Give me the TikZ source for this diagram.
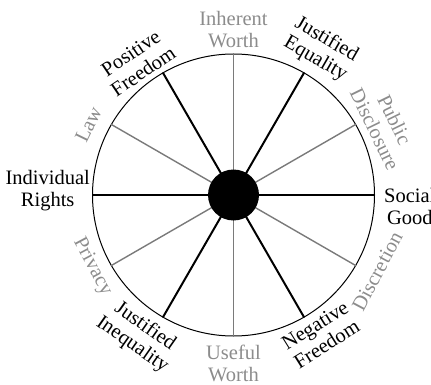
\documentclass[tikz,border=0pt]{standalone}
\usepackage{fontspec}
\setmainfont{Liberation Serif}
\usetikzlibrary{calc}
\definecolor{labgray}{HTML}{8C8C8C}
\definecolor{spokegray}{HTML}{7A7A7A}
\begin{document}
\begin{tikzpicture}[x=1pt,y=-1pt,
  lab/.style={font=\fontsize{20.5}{22}\selectfont, align=center, inner sep=0pt},
  dlab/.style={lab, text=black},
  glab/.style={lab, text=labgray},
  dspoke/.style={line width=2pt, black},
  hspoke/.style={line width=2.6pt, black},
  gspoke/.style={line width=1.4pt, spokegray},
]
\useasboundingbox (0,0) rectangle (431,385);
\clip (0,0) rectangle (431,385);
\coordinate (c) at (233.5,195);
\node[circle, draw, minimum size=282pt, inner sep=0pt, line width=1pt] (ring) at (c) {};
% spokes
\draw[hspoke] (c) -- (ring.0);
\draw[gspoke] (c) -- (ring.30);
\draw[dspoke] (c) -- (ring.60);
\draw[gspoke] (c) -- (ring.90);
\draw[dspoke] (c) -- (ring.120);
\draw[gspoke] (c) -- (ring.150);
\draw[hspoke] (c) -- (ring.180);
\draw[gspoke] (c) -- (ring.210);
\draw[dspoke] (c) -- (ring.240);
\draw[gspoke] (c) -- (ring.270);
\draw[dspoke] (c) -- (ring.300);
\draw[gspoke] (c) -- (ring.330);
\node[circle, fill=black, minimum size=51pt, inner sep=0pt] (hub) at (c) {};
% labels
\node[glab] (iw) at ($(c)!1.17!(ring.90)$) {Inherent\\Worth};
\node[dlab, rotate=-30] (je) at ($(c)!1.2!(ring.59)$) {Justified\\Equality};
\node[glab, rotate=-64] (pd) at ($(c)!1.18!(ring.25)$) {Public\\Disclosure};
\node[dlab, anchor=west] (sg) at ($(ring.east)+(9,11)$) {Social\\Good};
\node[glab, rotate=62] (di) at ($(c)!1.15!(ring.332)$) {Discretion};
\node[dlab, rotate=32] (nf) at ($(c)!1.165!(ring.302)$) {Negative\\Freedom};
\node[glab] (uw) at ($(c)!1.19!(ring.270)$) {Useful\\Worth};
\node[dlab, rotate=-35] (ji) at ($(c)!1.2!(ring.236)$) {Justified\\Inequality};
\node[glab, rotate=-62] (pr) at ($(c)!1.12!(ring.207)$) {Privacy};
\node[dlab, anchor=east] (ir) at ($(ring.west)+(-2,-4)$) {Individual\\Rights};
\node[glab, rotate=64] (lw) at ($(c)!1.14!(ring.154)$) {Law};
\node[dlab, rotate=34] (pf) at ($(c)!1.16!(ring.126)$) {Positive\\Freedom};
\end{tikzpicture}
\end{document}
